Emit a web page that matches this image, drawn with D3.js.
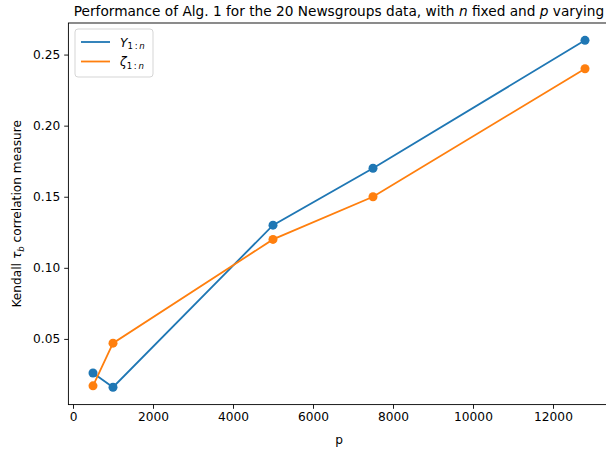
<!DOCTYPE html>
<html>
<head>
<meta charset="utf-8">
<script src="https://cdn.jsdelivr.net/npm/d3@7"></script>
<style>
  body { margin: 0; background: #fff; }
  svg { font-family: "DejaVu Sans", sans-serif; }
</style>
</head>
<body>
<svg width="606" height="449"></svg>
<script>
// Data
const pValues = [500, 1000, 5000, 7500, 12800];
const yTau = [0.026, 0.016, 0.13, 0.17, 0.26];
const zetaTau = [0.017, 0.047, 0.12, 0.15, 0.24];
const xTicks = [0, 2000, 4000, 6000, 8000, 10000, 12000];
const yTicks = [0.05, 0.10, 0.15, 0.20, 0.25];

const svg = d3.select("svg");
const blue = "#1f77b4";
const orange = "#ff7f0e";

// plot area
const plotL = 68.4, plotR = 609.6, plotT = 23, plotB = 404.6;

// matplotlib style 5% margins
const pad = (lo, hi) => [lo - 0.05 * (hi - lo), hi + 0.05 * (hi - lo)];
const allY = yTau.concat(zetaTau);
const x = d3.scaleLinear().domain(pad(d3.min(pValues), d3.max(pValues))).range([plotL, plotR]);
const y = d3.scaleLinear().domain(pad(d3.min(allY), d3.max(allY))).range([plotB, plotT]);

// axes
const xAxis = svg.append("g")
  .attr("transform", `translate(0,${plotB})`)
  .call(d3.axisBottom(x).tickValues(xTicks).tickSize(4.2).tickPadding(4).tickFormat(d3.format("d")));
const yAxis = svg.append("g")
  .attr("transform", `translate(${plotL},0)`)
  .call(d3.axisLeft(y).tickValues(yTicks).tickSize(4.2).tickPadding(4).tickFormat(d3.format(".2f")));

[xAxis, yAxis].forEach((g) => {
  g.select(".domain").remove();
  g.selectAll("line").attr("stroke", "#000").attr("stroke-width", 0.9);
  g.selectAll("text").attr("fill", "#000").style("font-size", "12.2px").style("font-family", "DejaVu Sans");
});

// spines
svg.append("rect")
  .attr("x", plotL).attr("y", plotT)
  .attr("width", plotR - plotL).attr("height", plotB - plotT)
  .attr("fill", "none").attr("stroke", "#000").attr("stroke-width", 0.9);

// series
const series = [
  { values: yTau, color: blue },
  { values: zetaTau, color: orange },
];
const line = d3.line().x((d) => x(d[0])).y((d) => y(d[1]));

series.forEach((s) => {
  const pts = pValues.map((p, i) => [p, s.values[i]]);
  svg.append("path")
    .attr("d", line(pts))
    .attr("fill", "none")
    .attr("stroke", s.color)
    .attr("stroke-width", 1.8);
  svg.append("g")
    .selectAll("circle")
    .data(pts)
    .enter()
    .append("circle")
    .attr("cx", (d) => x(d[0]))
    .attr("cy", (d) => y(d[1]))
    .attr("r", 4.5)
    .attr("fill", s.color);
});

// title
const title = svg.append("text")
  .attr("x", (plotL + plotR) / 2)
  .attr("y", 15.5)
  .attr("text-anchor", "middle")
  .style("font-size", "13.7px");
title.append("tspan").text("Performance of Alg. 1 for the 20 Newsgroups data, with ");
title.append("tspan").attr("font-style", "italic").text("n");
title.append("tspan").text(" fixed and ");
title.append("tspan").attr("font-style", "italic").text("p");
title.append("tspan").text(" varying");

// axis labels
svg.append("text")
  .attr("x", (plotL + plotR) / 2)
  .attr("y", 444)
  .attr("text-anchor", "middle")
  .style("font-size", "12.2px")
  .text("p");

const ylab = svg.append("text")
  .attr("transform", `translate(21,${(plotT + plotB) / 2}) rotate(-90)`)
  .attr("text-anchor", "middle")
  .style("font-size", "12.2px");
ylab.append("tspan").text("Kendall ");
ylab.append("tspan").attr("font-style", "italic").text("τ");
ylab.append("tspan").attr("font-style", "italic").attr("font-size", "8.6px").attr("dy", 2.5).text("b");
ylab.append("tspan").attr("dy", -2.5).text(" correlation measure");

// legend
const legend = svg.append("g").attr("transform", "translate(75,29)");
legend.append("rect")
  .attr("width", 78).attr("height", 48)
  .attr("rx", 3)
  .attr("fill", "#fff").attr("fill-opacity", 0.8)
  .attr("stroke", "#d0d0d0").attr("stroke-width", 0.9);

const legendItems = [
  { sym: "Y", color: blue },
  { sym: "ζ", color: orange },
];
legendItems.forEach((item, i) => {
  const cy = 13 + i * 19.5;
  legend.append("line")
    .attr("x1", 6).attr("x2", 35)
    .attr("y1", cy).attr("y2", cy)
    .attr("stroke", item.color).attr("stroke-width", 1.8);
  const t = legend.append("text")
    .attr("x", 45).attr("y", cy + 4.5)
    .style("font-size", "12.2px");
  t.append("tspan").attr("font-style", "italic").text(item.sym);
  t.append("tspan").attr("font-size", "8.6px").attr("dy", 2.5).text("1\u2009:\u2009");
  t.append("tspan").attr("font-size", "8.6px").attr("font-style", "italic").text("n");
});
</script>
</body>
</html>
